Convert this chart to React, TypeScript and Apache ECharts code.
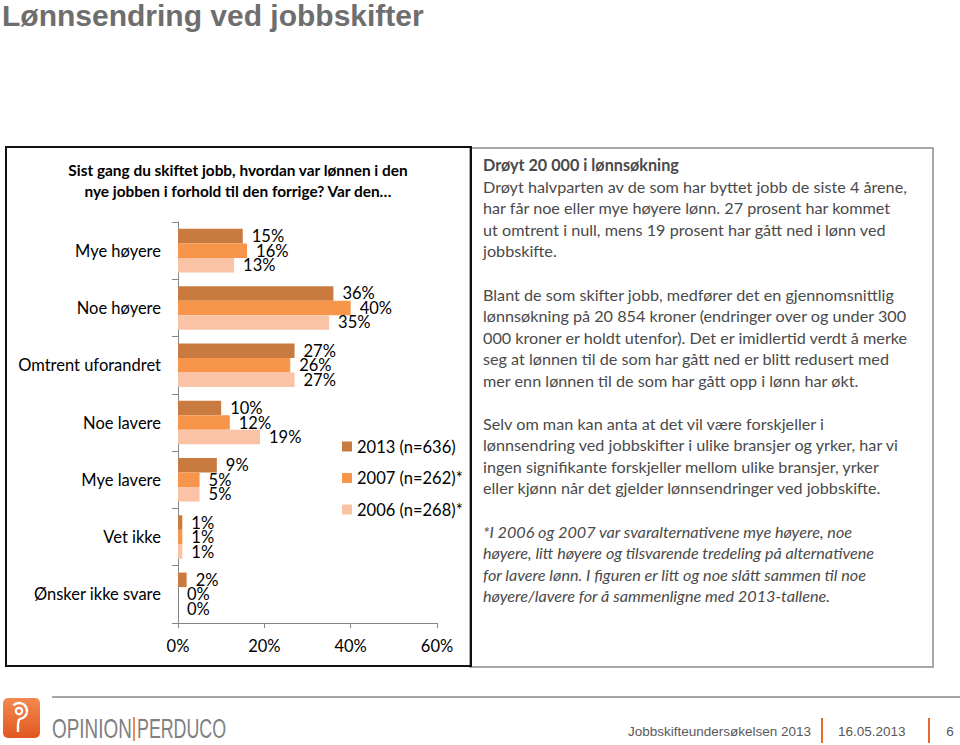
import React, { useEffect, useRef } from "react";
import * as echarts from "echarts";

const categories = [
  "Mye høyere",
  "Noe høyere",
  "Omtrent uforandret",
  "Noe lavere",
  "Mye lavere",
  "Vet ikke",
  "Ønsker ikke svare",
];
const seriesNames = ["2013 (n=636)", "2007 (n=262)*", "2006 (n=268)*"];
const values2013 = [15, 36, 27, 10, 9, 1, 2];
const values2007 = [16, 40, 26, 12, 5, 1, 0];
const values2006 = [13, 35, 27, 19, 5, 1, 0];
const seriesColors = ["#C97A3E", "#F7954A", "#FAC3A6"];
const xTicks = { min: 0, max: 60, interval: 20 };

const pageTitle = "Lønnsendring ved jobbskifter";
const chartTitleLines = [
  "Sist gang du skiftet jobb, hvordan var lønnen i den",
  "nye jobben i forhold til den forrige? Var den…",
];
const heading = "Drøyt 20 000 i lønnsøkning";
const para1 = [
  "Drøyt halvparten av de som har byttet jobb de siste 4 årene,",
  "har får noe eller mye høyere lønn. 27 prosent har kommet",
  "ut omtrent i null, mens 19 prosent har gått ned i lønn ved",
  "jobbskifte.",
];
const para2 = [
  "Blant de som skifter jobb, medfører det en gjennomsnittlig",
  "lønnsøkning på 20 854 kroner (endringer over og under 300",
  "000 kroner er holdt utenfor). Det er imidlertid verdt å merke",
  "seg at lønnen til de som har gått ned er blitt redusert med",
  "mer enn lønnen til de som har gått opp i lønn har økt.",
];
const para3 = [
  "Selv om man kan anta at det vil være forskjeller i",
  "lønnsendring ved jobbskifter i ulike bransjer og yrker, har vi",
  "ingen signifikante forskjeller mellom ulike bransjer, yrker",
  "eller kjønn når det gjelder lønnsendringer ved jobbskifte.",
];
const para4 = [
  "*I 2006 og 2007 var svaralternativene mye høyere, noe",
  "høyere, litt høyere og tilsvarende tredeling på alternativene",
  "for lavere lønn. I figuren er litt og noe slått sammen til noe",
  "høyere/lavere for å sammenligne med 2013-tallene.",
];
const footerLabel = "Jobbskifteundersøkelsen 2013";
const footerDate = "16.05.2013";
const footerPage = "6";

const FONT = "Lato, 'Open Sans', sans-serif";
const ARIAL = "'Liberation Sans', Arial, sans-serif";
const TEXT_COLOR = "#4a4a4a";
const LH = 21.6;

function lines(arr: string[], startY: number, extra: any = {}) {
  return arr.map((t, i) => ({
    type: "text",
    x: 483,
    y: startY + i * LH,
    style: {
      text: t,
      fill: TEXT_COLOR,
      fontSize: 16.2,
      fontFamily: FONT,
      verticalAlign: "middle",
      align: "left",
      ...extra,
    },
  }));
}

export default function App() {
  const ref = useRef<HTMLDivElement>(null);
  useEffect(() => {
    if (!ref.current) return;
    const chart = echarts.init(ref.current, null, { renderer: "svg" });
    const data = [values2013, values2007, values2006];
    const graphic: any[] = [
      {
        type: "text",
        x: 2,
        y: 0,
        style: {
          text: pageTitle,
          fill: "#6e6e6e",
          fontSize: 30,
          fontWeight: "bold",
          fontFamily: ARIAL,
          verticalAlign: "top",
        },
      },
      {
        type: "rect",
        shape: { x: 470, y: 148, width: 463, height: 519 },
        style: { fill: "none", stroke: "#8c8c8c", lineWidth: 1.5 },
      },
      {
        type: "rect",
        shape: { x: 6, y: 147, width: 465, height: 519 },
        style: { fill: "none", stroke: "#111", lineWidth: 2 },
      },
      ...chartTitleLines.map((t, i) => ({
        type: "text",
        x: 238,
        y: 170 + i * 21,
        style: {
          text: t,
          fill: "#000",
          fontSize: 15.4,
          fontWeight: "bold",
          fontFamily: FONT,
          align: "center",
          verticalAlign: "middle",
        },
      })),
      ...lines([heading], 164, { fontWeight: "bold" }),
      ...lines(para1, 186),
      ...lines(para2, 294),
      ...lines(para3, 423),
      ...lines(para4, 531, { fontStyle: "italic" }),
      // footer
      {
        type: "line",
        shape: { x1: 52, y1: 697, x2: 960, y2: 697 },
        style: { stroke: "#a6a6a6", lineWidth: 2 },
      },
      {
        type: "rect",
        shape: { x: 3, y: 698, width: 37, height: 40, r: 5 },
        style: {
          fill: new echarts.graphic.LinearGradient(0, 0, 0, 1, [
            { offset: 0, color: "#F28A52" },
            { offset: 1, color: "#E2571F" },
          ]),
        },
      },
      {
        type: "circle",
        shape: { cx: 19, cy: 711, r: 3.2 },
        style: { fill: "none", stroke: "#fff", lineWidth: 2.2 },
      },
      {
        type: "arc",
        shape: { cx: 19, cy: 711, r: 8, startAngle: -Math.PI * 0.75, endAngle: Math.PI * 0.5, clockwise: true },
        style: { fill: "none", stroke: "#fff", lineWidth: 2.4 },
      },
      {
        type: "polyline",
        shape: { points: [[19, 719], [18, 724], [18, 732]] },
        style: { fill: "none", stroke: "#fff", lineWidth: 2.4 },
      },
      {
        type: "text",
        x: 52,
        y: 729,
        scaleX: 0.7,
        style: { text: "OPINION", fill: "#808080", fontSize: 27, fontFamily: ARIAL, verticalAlign: "middle" },
      },
      {
        type: "line",
        shape: { x1: 134, y1: 717, x2: 134, y2: 741 },
        style: { stroke: "#E8692E", lineWidth: 1.6 },
      },
      {
        type: "text",
        x: 137,
        y: 729,
        scaleX: 0.66,
        style: { text: "PERDUCO", fill: "#808080", fontSize: 27, fontFamily: ARIAL, verticalAlign: "middle" },
      },
      {
        type: "text",
        x: 628,
        y: 731,
        style: { text: footerLabel, fill: "#595959", fontSize: 13.5, fontFamily: ARIAL, verticalAlign: "middle" },
      },
      {
        type: "line",
        shape: { x1: 822, y1: 718, x2: 822, y2: 743 },
        style: { stroke: "#E8692E", lineWidth: 2 },
      },
      {
        type: "text",
        x: 838,
        y: 731,
        style: { text: footerDate, fill: "#595959", fontSize: 13.5, fontFamily: ARIAL, verticalAlign: "middle" },
      },
      {
        type: "line",
        shape: { x1: 929, y1: 718, x2: 929, y2: 743 },
        style: { stroke: "#E8692E", lineWidth: 2 },
      },
      {
        type: "text",
        x: 950,
        y: 731,
        style: { text: footerPage, fill: "#595959", fontSize: 13.5, fontFamily: ARIAL, verticalAlign: "middle", align: "center" },
      },
    ];

    chart.setOption({
      animation: false,
      backgroundColor: "#fff",
      grid: { left: 178, top: 222, width: 259, height: 401, containLabel: false },
      legend: {
        data: seriesNames,
        orient: "vertical",
        left: 337,
        top: 433,
        itemWidth: 10,
        itemHeight: 10,
        itemGap: 14.5,
        icon: "rect",
        textStyle: { fontSize: 16.5, fontFamily: FONT, color: "#000" },
      },
      xAxis: {
        type: "value",
        min: xTicks.min,
        max: xTicks.max,
        interval: xTicks.interval,
        splitLine: { show: false },
        axisLine: { show: true, lineStyle: { color: "#868686" } },
        axisTick: { show: true, length: 5, lineStyle: { color: "#868686" } },
        axisLabel: { formatter: "{value}%", fontSize: 16.5, fontFamily: FONT, color: "#000", margin: 14 },
      },
      yAxis: {
        type: "category",
        data: categories,
        inverse: true,
        axisLine: { show: true, lineStyle: { color: "#868686" } },
        axisTick: { show: true, length: 6, lineStyle: { color: "#868686" } },
        axisLabel: { fontSize: 16.5, fontFamily: FONT, color: "#000", margin: 17 },
      },
      series: seriesNames.map((n, i) => ({
        type: "bar",
        name: n,
        data: data[i],
        barGap: "0%",
        barCategoryGap: "24%",
        itemStyle: { color: seriesColors[i] },
        label: {
          show: true,
          position: "right",
          distance: 9,
          formatter: "{c}%",
          fontSize: 16.5,
          fontFamily: FONT,
          color: "#000",
        },
      })),
      graphic,
    });
    return () => chart.dispose();
  }, []);
  return (
    <div
      ref={ref}
      style={{ position: "absolute", left: 0, top: 0, width: 960, height: 745 }}
    />
  );
}
